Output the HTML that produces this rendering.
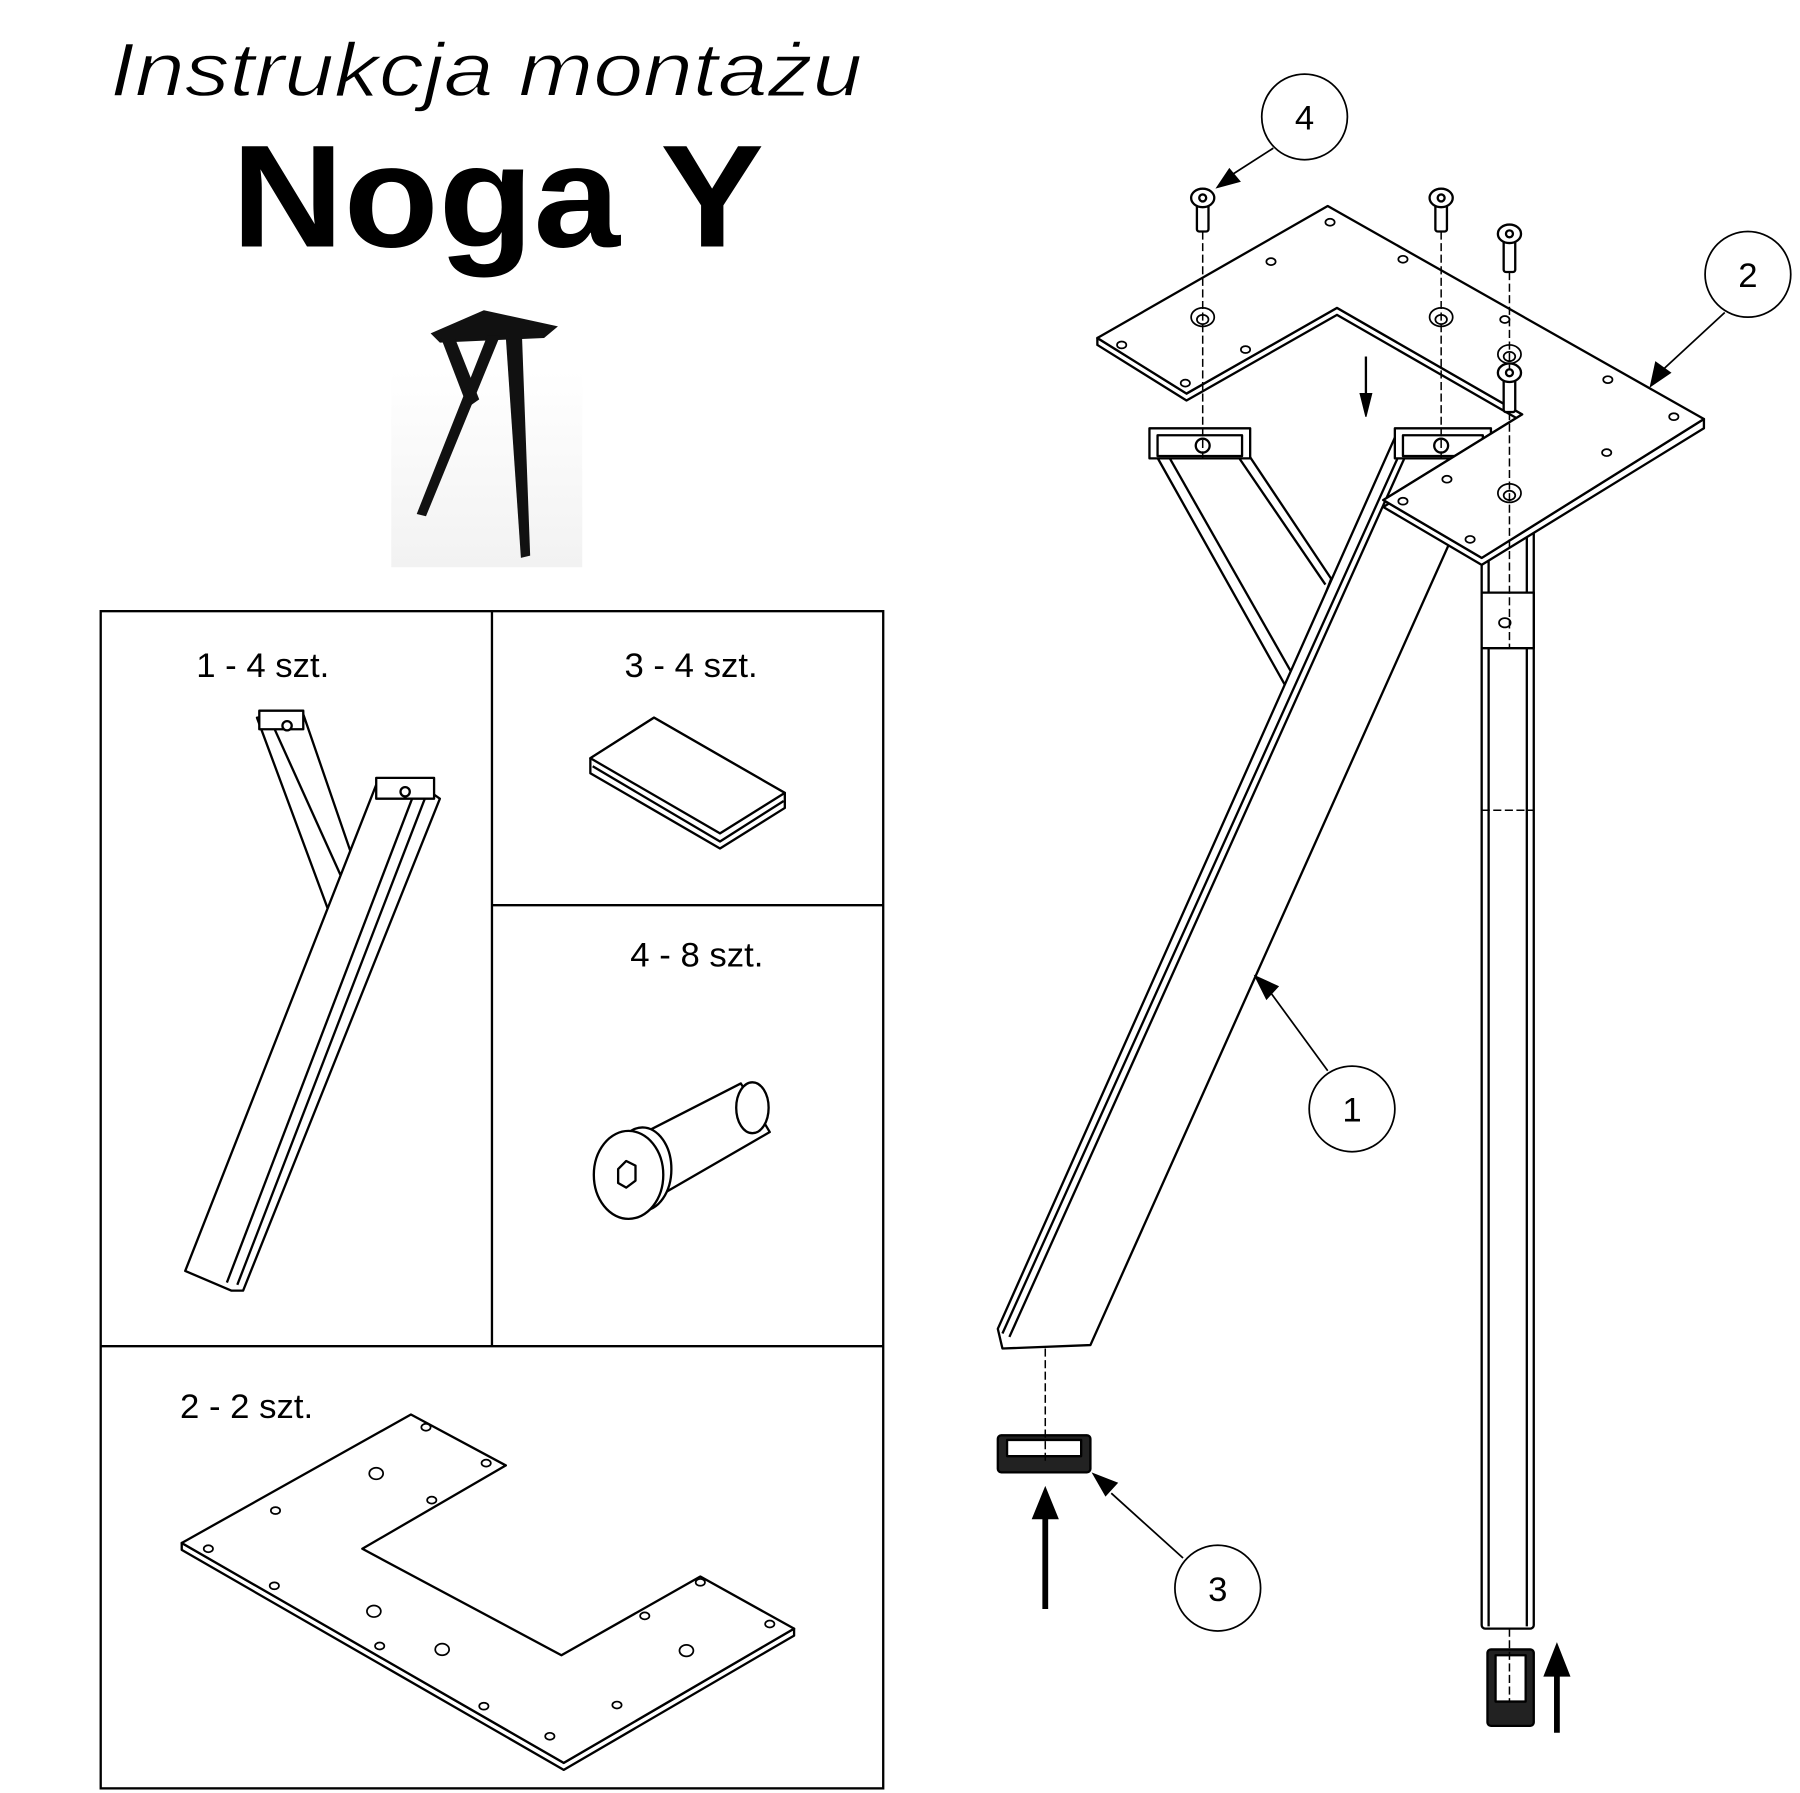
<!DOCTYPE html>
<html><head><meta charset="utf-8"><style>
html,body{margin:0;padding:0;background:#fff;width:1800px;height:1793px;overflow:hidden}
svg{display:block}
text{font-family:"Liberation Sans","DejaVu Sans",sans-serif;fill:#000}
</style></head><body>
<svg width="1800" height="1793" viewBox="0 0 1555 1549" preserveAspectRatio="none" xmlns="http://www.w3.org/2000/svg">
<defs><linearGradient id="g" x1="0" y1="0" x2="0" y2="1"><stop offset="0" stop-color="#fff"/><stop offset="1" stop-color="#f2f2f2"/></linearGradient></defs>
<rect width="1555" height="1549" fill="#fff"/>
<text x="420" y="83" font-size="66" font-style="italic" text-anchor="middle" stroke="#fff" stroke-width="1.2" textLength="650" lengthAdjust="spacingAndGlyphs">Instrukcja montażu</text>
<text x="430" y="213" font-size="126" font-weight="bold" text-anchor="middle" textLength="460" lengthAdjust="spacingAndGlyphs">Noga Y</text>

<!-- photo -->
<rect x="338" y="320" width="165" height="170" fill="url(#g)"/>
<g fill="#111">
<polygon points="372,288 418,268 482,282 470,292 380,296"/>
<polygon points="381,292 393,292 414,345 404,352"/>
<polygon points="421,290 432,290 368,446 360,444"/>
<polygon points="437,292 451,292 458,480 450,482"/>
</g>

<!-- table -->
<g fill="none" stroke="#000" stroke-width="2">
<rect x="87" y="528" width="676" height="1017"/>
<line x1="425" y1="528" x2="425" y2="1163"/>
<line x1="425" y1="782" x2="763" y2="782"/>
<line x1="87" y1="1163" x2="763" y2="1163"/>
</g>
<g font-size="30">
<text x="227" y="585" text-anchor="middle">1 - 4 szt.</text>
<text x="597" y="585" text-anchor="middle">3 - 4 szt.</text>
<text x="602" y="835" text-anchor="middle">4 - 8 szt.</text>
<text x="213" y="1225" text-anchor="middle">2 - 2 szt.</text>
</g>

<g fill="#fff" stroke="#000" stroke-width="2" stroke-linejoin="round">
<polygon points="222,620 262,617 305,742 285,790"/>
<line x1="235" y1="625" x2="296" y2="760"/>
<polygon points="325,678 370,683 380,690 210,1115 200,1115 160,1098"/>
<line x1="367" y1="690" x2="205" y2="1110"/>
<line x1="356" y1="690" x2="196" y2="1108"/>
<rect x="325" y="672" width="50" height="18"/>
<rect x="224" y="614" width="38" height="16"/>
<circle cx="350" cy="684" r="4"/><circle cx="248" cy="627" r="4"/>
<polygon points="510,655 565,620 678,685 678,698 622,733 510,668"/>
<polygon points="510,655 565,620 678,685 622,720"/>
<polyline points="512,662 622,727 677,692" fill="none"/>
<polygon points="550,982 640,936 665,978 575,1030"/>
<ellipse cx="650" cy="957" rx="14" ry="22"/>
<ellipse cx="555" cy="1010" rx="25" ry="36"/>
<ellipse cx="543" cy="1015" rx="30" ry="38"/>
<polygon points="534,1010 541,1003 549,1007 549,1020 541,1026 534,1022"/>
<polygon points="157,1333 157,1339 487,1529 686,1413 686,1407 487,1523"/>
<polygon points="157,1333 355,1222 437,1266 313,1338 485,1430 605,1362 686,1407 487,1523"/>
</g>
<g fill="none" stroke="#000" stroke-width="1.5">
<ellipse cx="368" cy="1233" rx="4" ry="3"/><ellipse cx="420" cy="1264" rx="4" ry="3"/>
<ellipse cx="325" cy="1273" rx="6" ry="5"/><ellipse cx="373" cy="1296" rx="4" ry="3"/>
<ellipse cx="238" cy="1305" rx="4" ry="3"/><ellipse cx="180" cy="1338" rx="4" ry="3"/>
<ellipse cx="237" cy="1370" rx="4" ry="3"/><ellipse cx="323" cy="1392" rx="6" ry="5"/>
<ellipse cx="328" cy="1422" rx="4" ry="3"/><ellipse cx="382" cy="1425" rx="6" ry="5"/>
<ellipse cx="418" cy="1474" rx="4" ry="3"/><ellipse cx="475" cy="1500" rx="4" ry="3"/>
<ellipse cx="533" cy="1473" rx="4" ry="3"/><ellipse cx="557" cy="1396" rx="4" ry="3"/>
<ellipse cx="593" cy="1426" rx="6" ry="5"/><ellipse cx="605" cy="1367" rx="4" ry="3"/>
<ellipse cx="665" cy="1403" rx="4" ry="3"/>
</g>

<g fill="#fff" stroke="#000" stroke-width="2" stroke-linejoin="round">
<rect x="1280" y="455" width="45" height="952" rx="3"/>
<line x1="1286" y1="455" x2="1286" y2="1405"/><line x1="1319" y1="455" x2="1319" y2="1405"/>
<rect x="1280" y="512" width="45" height="48"/>
<polygon points="998,392 1078,392 1150,500 1113,597"/>
<line x1="1010" y1="395" x2="1118" y2="585"/>
<line x1="1070" y1="395" x2="1145" y2="505"/>
<rect x="993" y="370" width="87" height="26"/>
<rect x="1000" y="376" width="73" height="18"/>
<polygon points="1205,378 1293,378 942,1162 866,1165 862,1148"/>
<line x1="1215" y1="392" x2="872" y2="1155"/>
<line x1="1210" y1="390" x2="866" y2="1152"/>
<rect x="1205" y="370" width="83" height="26"/>
<rect x="1212" y="376" width="69" height="18"/>
<circle cx="1039" cy="385" r="6"/><circle cx="1245" cy="385" r="6"/>
<rect x="862" y="1240" width="80" height="32" rx="3" fill="#222"/>
<rect x="870" y="1244" width="64" height="14" fill="#fff"/>
<rect x="1285" y="1425" width="40" height="66" rx="3" fill="#222"/>
<rect x="1292" y="1430" width="26" height="40" fill="#fff"/>
<polygon points="948,292 948,298 1025,346 1155,272 1315,364 1195,438 1280,488 1472,370 1472,362 1280,482 1195,432 1315,358 1155,266 1025,340"/>
<polygon points="948,292 1147,178 1472,362 1280,482 1195,432 1315,358 1155,266 1025,340"/>
</g>
<g fill="none" stroke="#000" stroke-width="1.5">
<ellipse cx="1039" cy="274" rx="10" ry="8"/><ellipse cx="1039" cy="276" rx="5" ry="4"/>
<ellipse cx="1245" cy="274" rx="10" ry="8"/><ellipse cx="1245" cy="276" rx="5" ry="4"/>
<ellipse cx="1304" cy="306" rx="10" ry="8"/><ellipse cx="1304" cy="308" rx="5" ry="4"/>
<ellipse cx="1304" cy="426" rx="10" ry="8"/><ellipse cx="1304" cy="428" rx="5" ry="4"/>
<ellipse cx="1149" cy="192" rx="4" ry="3"/><ellipse cx="1098" cy="226" rx="4" ry="3"/>
<ellipse cx="1212" cy="224" rx="4" ry="3"/><ellipse cx="1300" cy="276" rx="4" ry="3"/>
<ellipse cx="1076" cy="302" rx="4" ry="3"/><ellipse cx="969" cy="298" rx="4" ry="3"/>
<ellipse cx="1024" cy="331" rx="4" ry="3"/><ellipse cx="1389" cy="328" rx="4" ry="3"/>
<ellipse cx="1446" cy="360" rx="4" ry="3"/><ellipse cx="1388" cy="391" rx="4" ry="3"/>
<ellipse cx="1250" cy="414" rx="4" ry="3"/><ellipse cx="1212" cy="433" rx="4" ry="3"/>
<ellipse cx="1270" cy="466" rx="4" ry="3"/><ellipse cx="1300" cy="538" rx="5" ry="4"/>
</g>
<g fill="#fff" stroke="#000" stroke-width="2">
<rect x="1034" y="176" width="10" height="24" rx="2"/><ellipse cx="1039" cy="171" rx="10" ry="8"/><circle cx="1039" cy="171" r="3"/>
<rect x="1240" y="176" width="10" height="24" rx="2"/><ellipse cx="1245" cy="171" rx="10" ry="8"/><circle cx="1245" cy="171" r="3"/>
<rect x="1299" y="206" width="10" height="29" rx="2"/><ellipse cx="1304" cy="202" rx="10" ry="8"/><circle cx="1304" cy="202" r="3"/>
<rect x="1299" y="326" width="10" height="30" rx="2"/><ellipse cx="1304" cy="322" rx="10" ry="8"/><circle cx="1304" cy="322" r="3"/>
</g>
<g stroke="#000" stroke-width="1.3" stroke-dasharray="7,3" fill="none">
<line x1="1039" y1="200" x2="1039" y2="400"/>
<line x1="1245" y1="200" x2="1245" y2="400"/>
<line x1="1304" y1="235" x2="1304" y2="320"/>
<line x1="1304" y1="356" x2="1304" y2="560"/>
<line x1="903" y1="1165" x2="903" y2="1262"/>
<line x1="1304" y1="1407" x2="1304" y2="1470"/>
<line x1="1280" y1="700" x2="1325" y2="700"/>
</g>
<g stroke="#000" fill="#000">
<line x1="1180" y1="308" x2="1180" y2="345" stroke-width="2"/>
<polygon points="1175,340 1185,340 1180,360"/>
<line x1="903" y1="1390" x2="903" y2="1305" stroke-width="5"/>
<polygon points="892,1312 914,1312 903,1285"/>
<line x1="1345" y1="1497" x2="1345" y2="1440" stroke-width="5"/>
<polygon points="1334,1448 1356,1448 1345,1420"/>
</g>
<g fill="none" stroke="#000" stroke-width="1.5">
<ellipse cx="1127" cy="101" rx="37" ry="37"/>
<ellipse cx="1510" cy="237" rx="37" ry="37"/>
<ellipse cx="1168" cy="958" rx="37" ry="37"/>
<ellipse cx="1052" cy="1372" rx="37" ry="37"/>
<line x1="1100" y1="128" x2="1058" y2="155"/>
<line x1="1490" y1="270" x2="1438" y2="318"/>
<line x1="1147" y1="925" x2="1098" y2="858"/>
<line x1="1022" y1="1346" x2="960" y2="1290"/>
</g>
<g fill="#000">
<polygon points="1050,163 1062,145 1072,157"/>
<polygon points="1425,335 1430,312 1444,322"/>
<polygon points="1083,842 1105,852 1094,864"/>
<polygon points="943,1272 966,1281 955,1293"/>
</g>
<g font-size="30" text-anchor="middle">
<text x="1127" y="112">4</text>
<text x="1510" y="248">2</text>
<text x="1168" y="969">1</text>
<text x="1052" y="1383">3</text>
</g>
</svg>
</body></html>
